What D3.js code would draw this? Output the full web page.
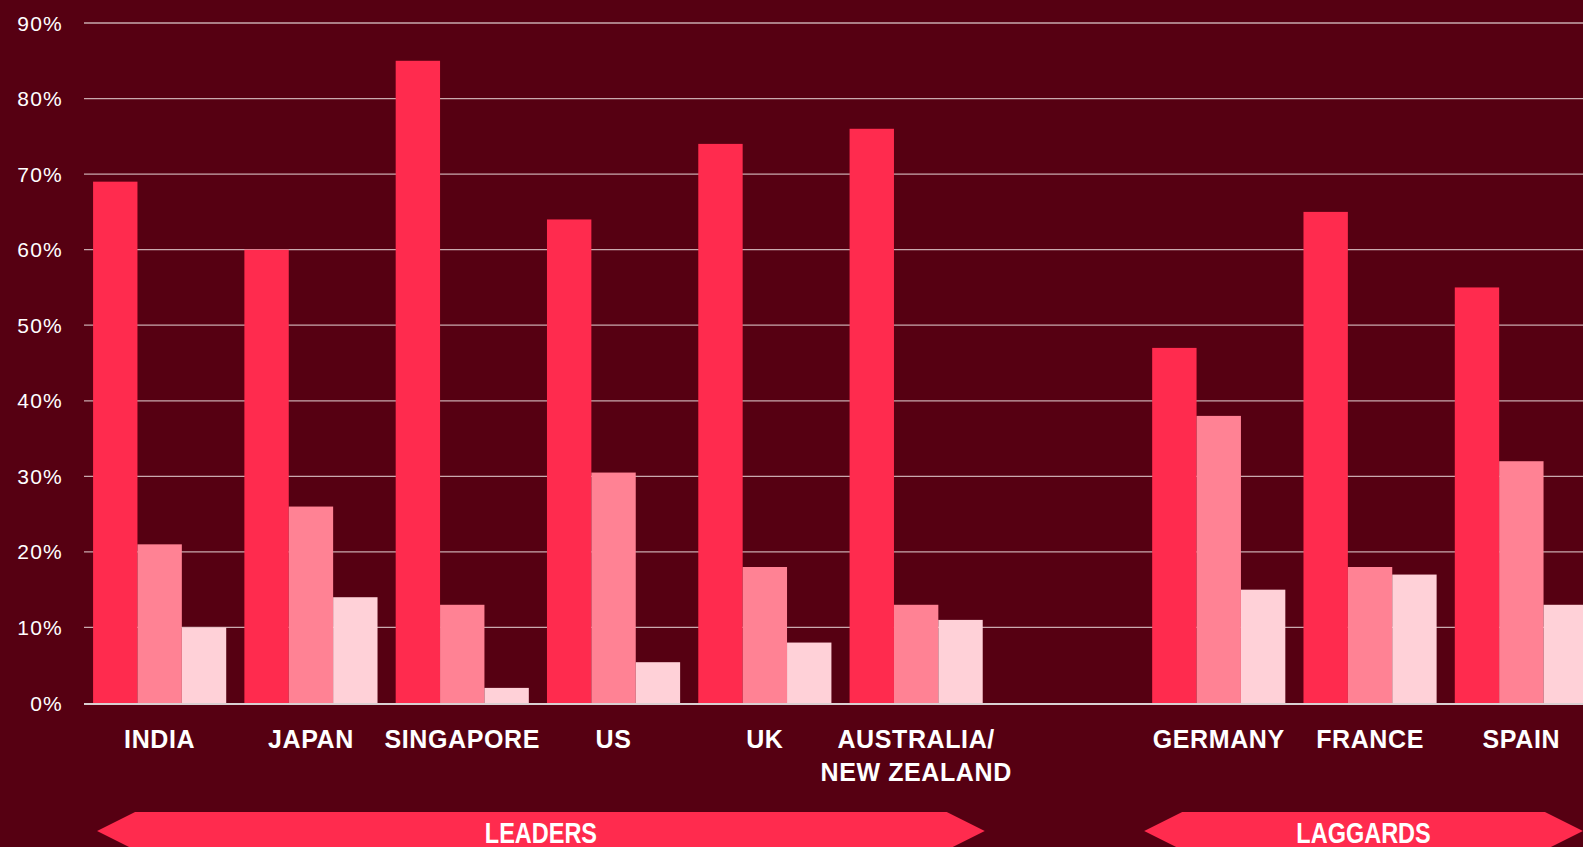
<!DOCTYPE html>
<html>
<head>
<meta charset="utf-8">
<script src="https://cdn.jsdelivr.net/npm/d3@7"></script>
<style>
  html, body { margin: 0; padding: 0; background: #560012; overflow: hidden; }
  svg { display: block; }
</style>
</head>
<body>
<script>
// data
const countries = ["INDIA", "JAPAN", "SINGAPORE", "US", "UK", "AUSTRALIA/\nNEW ZEALAND", "", "GERMANY", "FRANCE", "SPAIN"];
const seriesNames = ["s1", "s2", "s3"];
const series1 = [69, 60, 85, 64, 74, 76, null, 47, 65, 55];
const series2 = [21, 26, 13, 30.5, 18, 13, null, 38, 18, 32];
const series3 = [10, 14, 2, 5.4, 8, 11, null, 15, 17, 13];
const yTicks = [0, 10, 20, 30, 40, 50, 60, 70, 80, 90];
const groups = [
  { label: "LEADERS", from: "INDIA", to: "AUSTRALIA/\nNEW ZEALAND" },
  { label: "LAGGARDS", from: "GERMANY", to: "SPAIN" }
];

const W = 1583, H = 847;
const colors = ["#ff2b4e", "#ff8294", "#ffd1d8"];

const svg = d3.select("body").append("svg")
  .attr("width", W)
  .attr("height", H);

const x0 = d3.scaleBand()
  .domain(countries)
  .range([84, 84 + 10 * 151.3])
  .paddingInner(0.12)
  .paddingOuter(0.06);

const x1 = d3.scaleBand()
  .domain(seriesNames)
  .range([0, x0.bandwidth()]);

const y = d3.scaleLinear()
  .domain([0, 90])
  .range([703, 23]);

// gridlines
svg.append("g")
  .selectAll("line")
  .data(yTicks.filter(d => d > 0))
  .join("line")
  .attr("x1", 84)
  .attr("x2", W)
  .attr("y1", d => y(d))
  .attr("y2", d => y(d))
  .attr("stroke", "#c9a9ae")
  .attr("stroke-width", 1.3);

// y labels
svg.append("g")
  .selectAll("text")
  .data(yTicks)
  .join("text")
  .attr("x", 63)
  .attr("y", d => y(d))
  .attr("dy", "0.36em")
  .attr("text-anchor", "end")
  .attr("fill", "#fff")
  .style("font-family", "'Liberation Sans', Arial, sans-serif")
  .style("font-size", "21px")
  .style("letter-spacing", "1.2px")
  .text(d => d + "%");

// bars
const allSeries = [series1, series2, series3];
const rows = countries.map((c, i) => ({ c, vals: allSeries.map((s, k) => ({ k, v: s[i] })) }));

svg.append("g")
  .selectAll("g")
  .data(rows)
  .join("g")
  .attr("transform", d => `translate(${x0(d.c)},0)`)
  .selectAll("rect")
  .data(d => d.vals.filter(e => e.v != null))
  .join("rect")
  .attr("x", d => x1(seriesNames[d.k]))
  .attr("width", x1.bandwidth())
  .attr("y", d => y(d.v))
  .attr("height", d => y(0) - y(d.v))
  .attr("fill", d => colors[d.k]);

// baseline
svg.append("line")
  .attr("x1", 84).attr("x2", W)
  .attr("y1", y(0) + 1).attr("y2", y(0) + 1)
  .attr("stroke", "#d9d0d2")
  .attr("stroke-width", 2);

// category labels
const lab = svg.append("g")
  .selectAll("text")
  .data(countries)
  .join("text")
  .attr("x", d => x0(d) + x0.bandwidth() / 2)
  .attr("y", 748)
  .attr("text-anchor", "middle")
  .attr("fill", "#fff")
  .style("font-family", "'Liberation Sans', Arial, sans-serif")
  .style("font-weight", "bold")
  .style("font-size", "25px")
  .style("letter-spacing", "0.6px");

lab.selectAll("tspan")
  .data(d => d.split("\n"))
  .join("tspan")
  .attr("x", function () { return d3.select(this.parentNode).attr("x"); })
  .attr("dy", (d, i) => i === 0 ? 0 : 33)
  .text(d => d);

// group arrows
const tipW = 38, arrTop = 812, arrBot = 850, arrMid = (arrTop + arrBot) / 2;
const arrPad = [[4, 2], [-8, -5]]; // small nudges so arrow ends sit like the original
const ag = svg.append("g")
  .selectAll("g")
  .data(groups)
  .join("g");

const ends = (d, i) => [x0(d.from) + arrPad[i][0], x0(d.to) + x0.bandwidth() + arrPad[i][1]];

ag.append("path")
  .attr("d", (d, i) => {
    const [a, b] = ends(d, i);
    return `M${a},${arrMid}L${a + tipW},${arrTop}L${b - tipW},${arrTop}L${b},${arrMid}L${b - tipW},${arrBot}L${a + tipW},${arrBot}Z`;
  })
  .attr("fill", "#ff2b4e");

// no condensed font installed, so squeeze the label sideways
ag.append("text")
  .attr("transform", (d, i) => `translate(${d3.mean(ends(d, i))},843) scale(0.81,1)`)
  .attr("text-anchor", "middle")
  .attr("fill", "#fff")
  .style("font-family", "'Liberation Sans', Arial, sans-serif")
  .style("font-weight", "bold")
  .style("font-size", "29px")
  .text(d => d.label);
</script>
</body>
</html>
